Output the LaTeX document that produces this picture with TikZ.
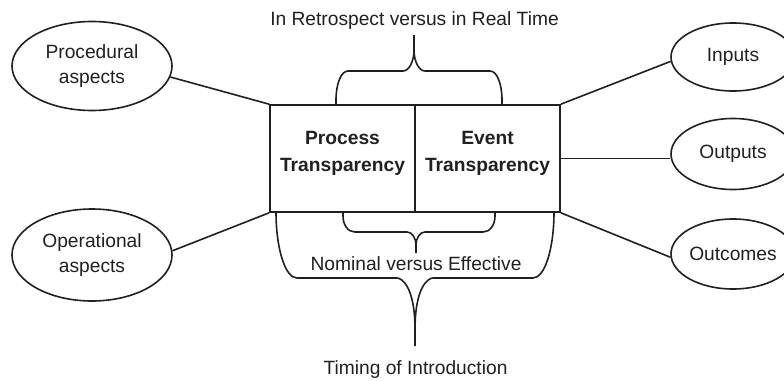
\documentclass[tikz,border=0pt]{standalone}
\usepackage{fontspec}
\setmainfont{Liberation Sans}
\usetikzlibrary{shapes.geometric}
\definecolor{ink}{RGB}{35,31,32}
\begin{document}
\begin{tikzpicture}[x=1pt,y=-1pt,
  every node/.style={text=ink, font=\fontsize{19.2}{25}\selectfont},
  line/.style={draw=ink, line width=1.6pt},
  bubble/.style={line, ellipse, inner sep=0pt, align=center},
  cell/.style={line, rectangle, inner sep=0pt, minimum width=145pt, minimum height=107pt},
  celltext/.style={align=center, inner sep=0pt, font=\fontsize{19.2}{27}\selectfont\bfseries},
  caption/.style={anchor=base, inner sep=0pt},
  brace/.style={draw=ink, line width=1.6pt, line join=round}]
\clip (0,0) rectangle (784,380);

% central two-part box
\node[cell] (pt) at (342.5,158.5) {};
\node[cell] (et) at (487.5,158.5) {};
\node[celltext] (ptt) at ([yshift=5pt]pt.center) {Process\\Transparency};
\node[celltext] (ett) at ([yshift=5pt]et.center) {Event\\Transparency};

% surrounding aspects
\node[bubble, minimum width=160pt, minimum height=89pt] (proc) at (92,66) {Procedural\\aspects};
\node[bubble, minimum width=160pt, minimum height=92pt] (oper) at (92,255) {Operational\\aspects};
\node[bubble, minimum width=124pt, minimum height=68pt] (inp) at (733,57) {Inputs};
\node[bubble, minimum width=124pt, minimum height=71pt] (outp) at (733,154) {Outputs};
\node[bubble, minimum width=124pt, minimum height=70pt] (outc) at (733,254) {Outcomes};

% connectors
\draw[line] (proc.-8) -- (pt.north west);
\draw[line] (oper.3) -- (pt.south west);
\draw[line] (et.north east) -- (inp.184);
\draw[line] (et.east) -- (et.east -| outp.west);
\draw[line] (et.south east) -- (outc.183);

% upper brace
\draw[brace] (336,105) -- (336,100) .. controls (336,84) and (341,71) .. (348,71)
  -- (403,71) .. controls (409,71) and (414,61.5) .. (414,50) -- (414,35);
\draw[brace] (414,50) .. controls (414,61.5) and (419,71) .. (425,71)
  -- (490,71) .. controls (497,71) and (502,84) .. (502,100) -- (502,105);

% inner lower brace
\draw[brace] (343,212) -- (343,216) .. controls (343,225) and (348,232) .. (355,232)
  -- (407,232) .. controls (412,232) and (416,238) .. (416,245) -- (416,253);
\draw[brace] (416,245) .. controls (416,238) and (420,232) .. (425,232)
  -- (483,232) .. controls (490,232) and (495,225) .. (495,216) -- (495,212);

% outer lower brace
\draw[brace] (276,212) .. controls (276,248) and (285,278) .. (297,278)
  -- (397,278) .. controls (401,278) and (415,285) .. (415,330) -- (415,346);
\draw[brace] (415,330) .. controls (415,285) and (429,278) .. (433,278)
  -- (533,278) .. controls (545,278) and (554,248) .. (554,212);

% brace captions
\node[caption] (retro) at (414.5,25) {In Retrospect versus in Real Time};
\node[caption] (nomin) at (416,270) {Nominal versus Effective};
\node[caption] (timing) at (415.5,374) {Timing of Introduction};
\end{tikzpicture}
\end{document}
